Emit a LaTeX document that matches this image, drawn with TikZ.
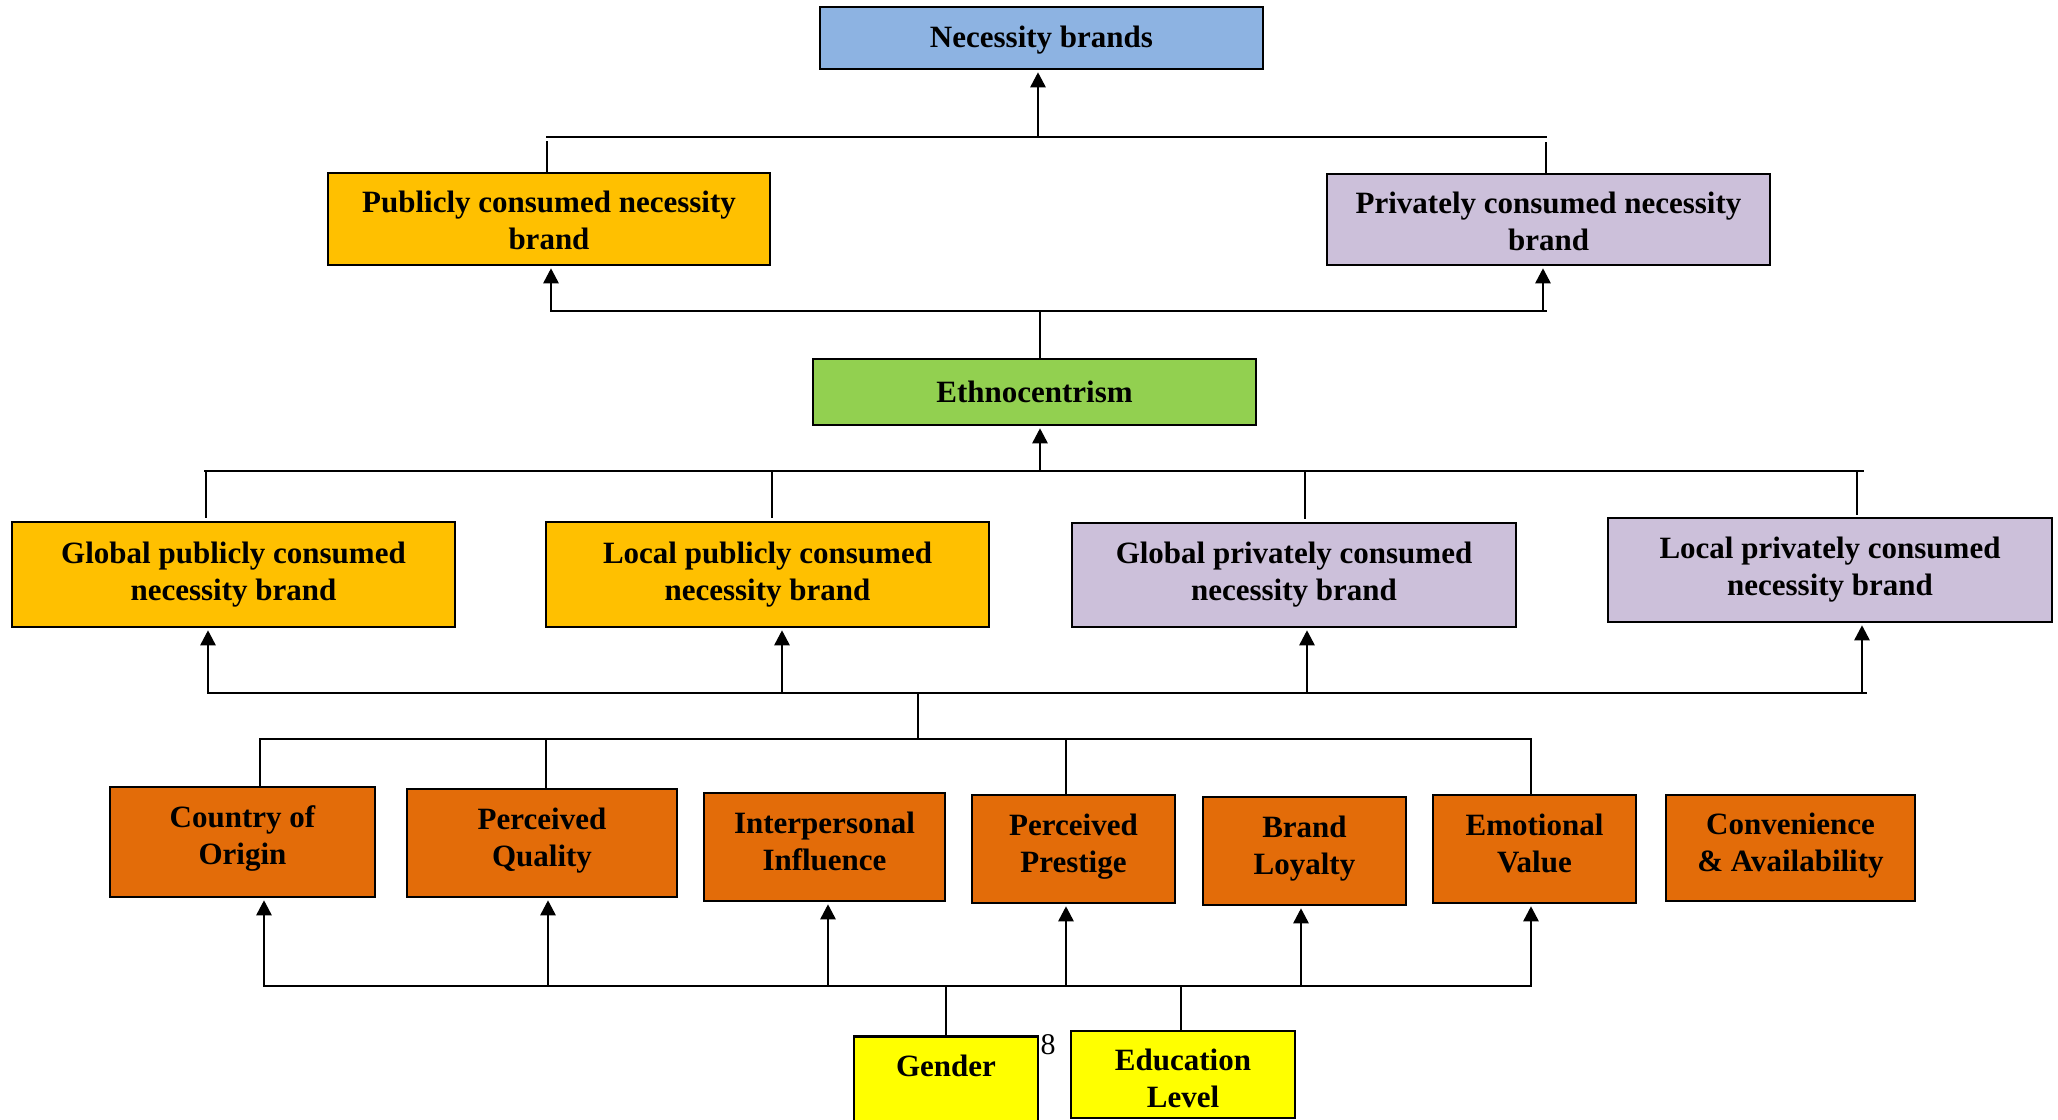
\documentclass[tikz,border=0pt]{standalone}
\usepackage{fontspec}
\setmainfont{Liberation Serif}
\usetikzlibrary{arrows.meta}
\definecolor{cblue}{HTML}{8DB3E2}
\definecolor{cgold}{HTML}{FFC000}
\definecolor{clav}{HTML}{CCC0DA}
\definecolor{cgreen}{HTML}{92D050}
\definecolor{corange}{HTML}{E36C09}
\definecolor{cyel}{HTML}{FFFF00}
\newcommand{\hstrut}{\rule{0pt}{12.5pt}}
\newcommand{\dstrut}{\rule[-8pt]{0pt}{8pt}}
\tikzset{
  box/.style={draw=black, line width=1.25pt, inner sep=0pt, align=center,
    font=\bfseries\fontsize{15.5}{18.5}\selectfont},
  bus/.style={line width=1.2pt, line cap=rect},
  stub/.style={line width=0.75pt},
  arr/.style={line width=1.3pt, -{Triangle[length=7.5pt,width=7.5pt]}, shorten >=1pt},
}
\begin{document}
\begin{tikzpicture}[x=0.5pt,y=-0.5pt]
\useasboundingbox (0,0) rectangle (2058,1120);

% boxes
\node[box, fill=cblue, minimum width=221.5pt, minimum height=31pt] (nec) at (1041.5,38) {\rule[-3.4pt]{0pt}{16.4pt}Necessity brands};
\node[box, fill=cgold, minimum width=221pt, minimum height=46pt] (pub) at (549,219) {\rule{0pt}{12pt}Publicly consumed necessity\\brand};
\node[box, fill=clav, minimum width=221.5pt, minimum height=45.5pt] (priv) at (1548.5,219.5) {\rule{0pt}{12.5pt}Privately consumed necessity\\brand};
\node[box, fill=cgreen, minimum width=221.5pt, minimum height=33pt] (eth) at (1034.5,392) {Ethnocentrism};
\node[box, fill=cgold, minimum width=221.5pt, minimum height=52.5pt] (gpub) at (233.5,574.5) {Global publicly consumed\\necessity brand};
\node[box, fill=cgold, minimum width=221.5pt, minimum height=52.5pt] (lpub) at (767.5,574.5) {Local publicly consumed\\necessity brand};
\node[box, fill=clav, minimum width=222pt, minimum height=52pt] (gpriv) at (1294,575) {Global privately consumed\\necessity brand};
\node[box, fill=clav, minimum width=222pt, minimum height=52pt] (lpriv) at (1830,570) {Local privately consumed\\necessity brand};

\node[box, fill=corange, minimum width=132.5pt, minimum height=55pt] (coo) at (242.5,842) {\rule{0pt}{11.5pt}Country of\\Origin\dstrut};
\node[box, fill=corange, minimum width=135pt, minimum height=54pt] (pq) at (542,843) {\hstrut Perceived\\Quality\dstrut};
\node[box, fill=corange, minimum width=120.5pt, minimum height=54pt] (ii) at (824.5,847) {\hstrut Interpersonal\\Influence\dstrut};
\node[box, fill=corange, minimum width=101.5pt, minimum height=54pt] (pp) at (1073.5,849) {\hstrut Perceived\\Prestige\dstrut};
\node[box, fill=corange, minimum width=101.5pt, minimum height=54pt] (bl) at (1304.5,851) {\hstrut Brand\\Loyalty\dstrut};
\node[box, fill=corange, minimum width=101.5pt, minimum height=54pt] (ev) at (1534.5,849) {\hstrut Emotional\\Value\dstrut};
\node[box, fill=corange, minimum width=124.5pt, minimum height=53pt] (ca) at (1790.5,848) {\hstrut Convenience\\\& Availability\dstrut};

\node[box, fill=cyel, minimum width=92pt, text height=20pt, text depth=31pt, anchor=north] (gen) at (946,1035) {Gender};
\node[box, fill=cyel, minimum width=112pt, minimum height=43.5pt] (edu) at (1183,1074.5) {\rule{0pt}{14.5pt}Education\\Level};
\node[font=\fontsize{15}{18}\selectfont, inner sep=0pt] (pg) at (1048,1045) {8};

% bus A (to Necessity brands)
\coordinate (aL) at (547,137);
\coordinate (aR) at (1546,137);
\coordinate (aM) at (1038,137);
\draw[bus] (aL) -- (aR);
\draw[arr] (aM) -- (aM |- nec.south);
\draw[stub] (pub.north -| aL) -- ++(0,-31);
\draw[stub] (priv.north -| aR) -- ++(0,-31);

% bus B (from Ethnocentrism)
\coordinate (bL) at (551,311);
\coordinate (bR) at (1546,311);
\coordinate (bP) at (1543,311);
\coordinate (bM) at (1040,311);
\draw[bus] (bL) -- (bR);
\draw[arr] (bL) -- (bL |- pub.south);
\draw[arr] (bP) -- (bP |- priv.south);
\draw[stub] (bM) -- (bM |- eth.north);

% bus C (to Ethnocentrism)
\coordinate (cL) at (205,471);
\coordinate (cR) at (1863,471);
\coordinate (cM) at (1040,471);
\coordinate (c1) at (206,471);
\coordinate (c2) at (772,471);
\coordinate (c3) at (1305,471);
\coordinate (c4) at (1857,471);
\draw[bus] (cL) -- (cR);
\draw[arr] (cM) -- (cM |- eth.south);
\draw[stub] (c1) -- ([yshift=1.5pt]c1 |- gpub.north);
\draw[stub] (c2) -- ([yshift=1.5pt]c2 |- lpub.north);
\draw[stub] (c3) -- ([yshift=1.5pt]c3 |- gpriv.north);
\draw[stub] (c4) -- ([yshift=1pt]c4 |- lpriv.north);

% bus D (to the four brand types)
\coordinate (dL) at (208,693);
\coordinate (dR) at (1866,693);
\coordinate (d2) at (782,693);
\coordinate (d3) at (1307,693);
\coordinate (d4) at (1862,693);
\coordinate (dM) at (918,693);
\draw[bus] (dL) -- (dR);
\draw[arr] (dL) -- (dL |- gpub.south);
\draw[arr] (d2) -- (d2 |- lpub.south);
\draw[arr] (d3) -- (d3 |- gpriv.south);
\draw[arr] (d4) -- (d4 |- lpriv.south);

% bus E (from the factors)
\coordinate (eL) at (260,739);
\coordinate (eR) at (1531,739);
\coordinate (eM) at (918,739);
\coordinate (e2) at (546,739);
\coordinate (e3) at (1066,739);
\draw[bus] (eL) -- (eR);
\draw[stub] (eM) -- (dM);
\draw[stub] (eL) -- (eL |- coo.north);
\draw[stub] (e2) -- (e2 |- pq.north);
\draw[stub] (e3) -- (e3 |- pp.north);
\draw[stub] (eR) -- (eR |- ev.north);

% bus F (from Gender and Education)
\coordinate (fL) at (264,986);
\coordinate (fR) at (1531,986);
\coordinate (f2) at (548,986);
\coordinate (f3) at (828,986);
\coordinate (f4) at (1066,986);
\coordinate (f5) at (1301,986);
\coordinate (fG) at (946,986);
\coordinate (fE) at (1181,986);
\draw[bus] (fL) -- (fR);
\draw[arr] (fL) -- (fL |- coo.south);
\draw[arr] (f2) -- (f2 |- pq.south);
\draw[arr] (f3) -- (f3 |- ii.south);
\draw[arr] (f4) -- (f4 |- pp.south);
\draw[arr] (f5) -- (f5 |- bl.south);
\draw[arr] (fR) -- (fR |- ev.south);
\draw[stub] (gen.north) -- (fG);
\draw[stub] (edu.north -| fE) -- (fE);
\end{tikzpicture}
\end{document}
